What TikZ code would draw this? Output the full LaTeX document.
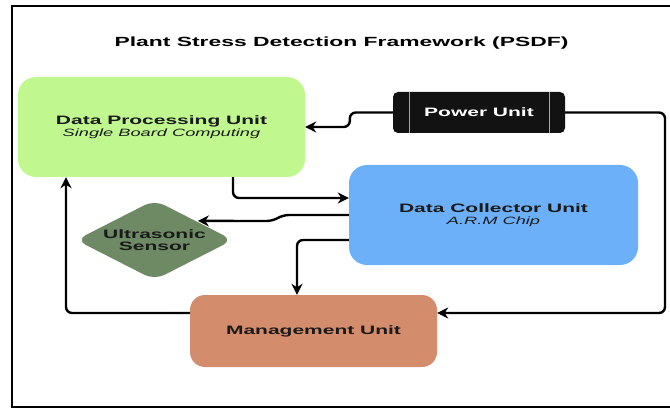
\documentclass[tikz,border=0pt]{standalone}
\usepackage{fontspec}
\setmainfont[FakeStretch=1.72]{Liberation Sans}
\usetikzlibrary{arrows.meta,shapes.geometric}
\definecolor{dpuc}{HTML}{C0F78F}
\definecolor{dcuc}{HTML}{6CB0FA}
\definecolor{senc}{HTML}{6D8A64}
\definecolor{mguc}{HTML}{D38D6D}
\definecolor{txtc}{HTML}{1A1A1A}
\tikzset{
  box/.style={rectangle, inner sep=0pt, align=center, text=txtc,
    font=\fontsize{12.2}{10.5}\selectfont\bfseries},
  arr/.style={line width=2.4pt, rounded corners=6pt,
    -{Stealth[length=11pt,width=11pt,inset=3.5pt]}},
  frame/.style={line width=1.8pt},
}
\newcommand{\subtxt}[1]{{\fontsize{10.6}{11}\selectfont\mdseries\itshape #1}}
\begin{document}
\begin{tikzpicture}[x=1pt,y=-1pt]
\useasboundingbox (0,0) rectangle (670,409);
\draw[frame] (680,6) -- (12,6) -- (12,407) -- (680,407);
\node[font=\fontsize{13.3}{15}\selectfont\bfseries] (title) at (341.5,43) {Plant Stress Detection Framework (PSDF)};
% units
\node[box, fill=dpuc, rounded corners=18pt, minimum width=287pt, minimum height=100pt] (dpu) at (161.5,127)
  {Data Processing Unit\\[1pt]\subtxt{Single Board Computing}};
\node[box, fill=dcuc, rounded corners=18pt, minimum width=289pt, minimum height=100pt] (dcu) at (493.5,215)
  {Data Collector Unit\\[1pt]\subtxt{A.R.M Chip}};
\node[box, fill=mguc, rounded corners=15pt, minimum width=247pt, minimum height=72pt] (mgu) at (313.5,331)
  {Management Unit};
\node[box, fill=black!93, text=white, rounded corners=5pt, minimum width=172pt, minimum height=41pt] (pwr) at (479,112.5)
  {Power Unit};
\draw[gray!70, line width=1pt] ([xshift=17pt]pwr.north west) -- ([xshift=17pt]pwr.south west);
\draw[gray!70, line width=1pt] ([xshift=-16pt]pwr.north east) -- ([xshift=-16pt]pwr.south east);
\node[box, diamond, aspect=1.96, fill=senc, rounded corners=11pt, minimum width=157pt, minimum height=80pt,
  font=\fontsize{12.2}{12.5}\selectfont\bfseries] (sen) at (154.5,240)
  {Ultrasonic\\Sensor};
% connectors
\draw[arr] (pwr.west) -- ++(-43,0) |- (dpu.east);
\draw[arr] (pwr.east) -- (665,112.5) |- ([yshift=18pt]mgu.east);
\draw[arr] ([xshift=71.5pt]dpu.south) |- ([yshift=17pt]dcu.west);
\draw[arr, shorten >=4pt] (dcu.west) -- ++(-66,0) -- ++(-10,6) -- ([yshift=-1pt]sen.north east);
\draw[arr] ([yshift=-25pt]dcu.west) -| ([xshift=-16.5pt]mgu.north);
\draw[arr] ([yshift=18pt]mgu.west) -| ([xshift=-95.5pt]dpu.south);
\end{tikzpicture}
\end{document}
